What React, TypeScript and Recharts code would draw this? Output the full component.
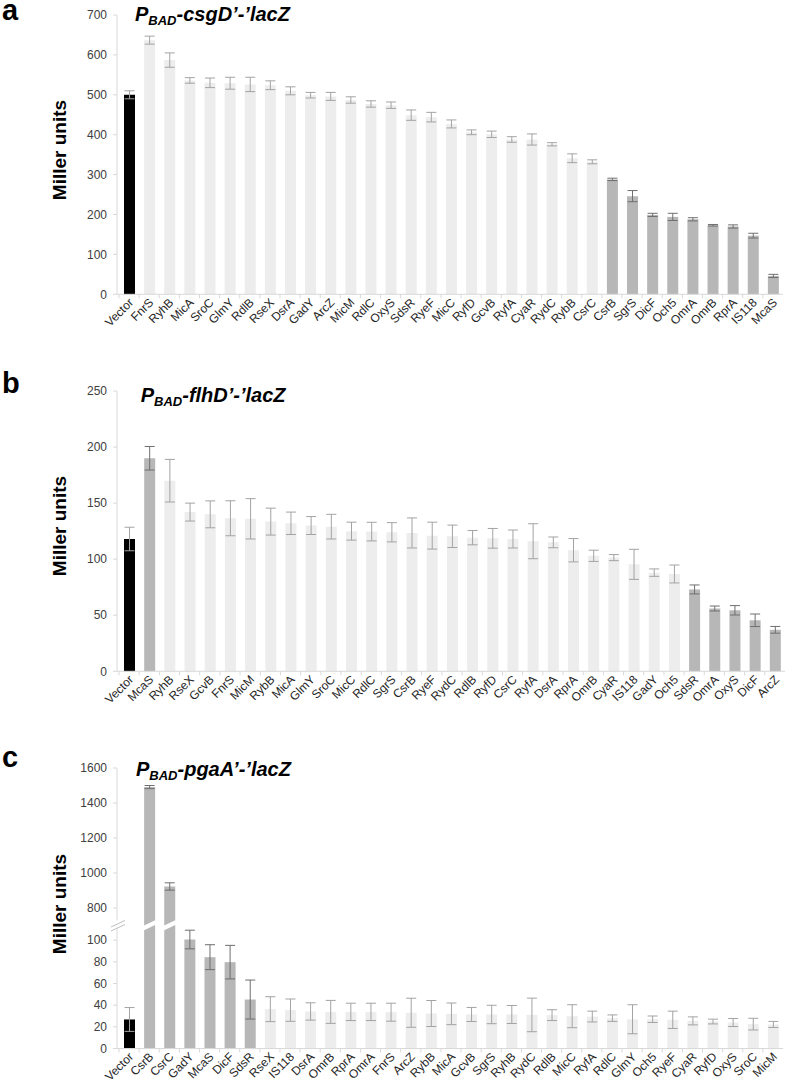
import React from 'react'
import { BarChart, Bar, XAxis, YAxis, ErrorBar, Cell } from 'recharts'

const FONT = '"Liberation Sans", Arial, Helvetica, sans-serif'
const AXIS = '#d9d9d9'
const BLACK = '#000000'
const LIGHT = '#ededed'
const DARK = '#b7b7b7'
const ERR_LIGHT = '#a3a3a3'
const ERR_DARK = '#6e6e6e'

// a: PBAD-csgD'-'lacZ
const csgdNames = ['Vector', 'FnrS', 'RyhB', 'MicA', 'SroC', 'GlmY', 'RdlB', 'RseX', 'DsrA', 'GadY', 'ArcZ', 'MicM', 'RdlC', 'OxyS', 'SdsR', 'RyeF', 'MicC', 'RyfD', 'GcvB', 'RyfA', 'CyaR', 'RydC', 'RybB', 'CsrC', 'CsrB', 'SgrS', 'DicF', 'Och5', 'OmrA', 'OmrB', 'RprA', 'IS118', 'McaS']
const csgdValues = [500, 637, 587, 536, 530, 529, 526, 524, 510, 499, 496, 487, 477, 474, 449, 444, 427, 406, 401, 388, 388, 376, 341, 332, 288, 246, 199, 194, 188, 173, 170, 147, 46]
const csgdErrors = [10, 10, 18, 7, 12, 15, 18, 11, 10, 7, 10, 8, 8, 8, 13, 12, 10, 6, 8, 7, 14, 4, 11, 5, 3, 14, 4, 9, 4, 2, 4, 6, 4]
const csgdDark = ['CsrB', 'SgrS', 'DicF', 'Och5', 'OmrA', 'OmrB', 'RprA', 'IS118', 'McaS']
const csgdTicks = [0, 100, 200, 300, 400, 500, 600, 700]

// b: PBAD-flhD'-'lacZ
const flhdNames = ['Vector', 'McaS', 'RyhB', 'RseX', 'GcvB', 'FnrS', 'MicM', 'RybB', 'MicA', 'GlmY', 'SroC', 'MicC', 'RdlC', 'SgrS', 'CsrB', 'RyeF', 'RydC', 'RdlB', 'RyfD', 'CsrC', 'RyfA', 'DsrA', 'RprA', 'OmrB', 'CyaR', 'IS118', 'GadY', 'Och5', 'SdsR', 'OmrA', 'OxyS', 'DicF', 'ArcZ']
const flhdValues = [118, 190, 170, 142, 140, 136.5, 136, 133.5, 132, 130, 129, 125, 124.6, 124, 123.4, 121, 120.4, 119.2, 118.6, 118, 116, 115, 108, 103, 101.4, 95.4, 88, 86.8, 73, 56, 54.4, 45.5, 37]
const flhdErrors = [10.5, 10.5, 19, 8, 12, 15.6, 18, 12, 10, 8, 11, 8, 8.3, 8.6, 13.4, 12, 10, 6.4, 8.8, 8, 15.6, 4.8, 10.4, 5, 2.7, 13.4, 3.3, 8, 4, 2.2, 4.2, 5.6, 3]
const flhdDark = ['McaS', 'SdsR', 'OmrA', 'OxyS', 'DicF', 'ArcZ']
const flhdTicks = [0, 50, 100, 150, 200, 250]

// c: PBAD-pgaA'-'lacZ (broken axis)
const pgaaNames = ['Vector', 'CsrB', 'CsrC', 'GadY', 'McaS', 'DicF', 'SdsR', 'RseX', 'IS118', 'DsrA', 'OmrB', 'RprA', 'OmrA', 'FnrS', 'ArcZ', 'RybB', 'MicA', 'GcvB', 'SgrS', 'RyhB', 'RydC', 'RdlB', 'MicC', 'RyfA', 'RdlC', 'GlmY', 'Och5', 'RyeF', 'CyaR', 'RyfD', 'OxyS', 'SroC', 'MicM']
const pgaaValues = [26.8, 1491, 923, 100.6, 84.3, 79.7, 45.2, 36.3, 35.4, 34.2, 33.8, 33.8, 33.8, 33.5, 33, 32.3, 32, 31.4, 31.4, 31.4, 31, 30.8, 29.8, 29.5, 28, 27, 27, 26.5, 25.5, 24.9, 24, 22.5, 22.2]
const pgaaErrors = [11, 9, 21, 8.6, 11.5, 15.5, 18, 11.5, 10.3, 8, 10.6, 8, 8, 8.3, 13.4, 12, 10, 6.5, 8.5, 8.3, 15.5, 5, 10.6, 5, 3, 13.4, 3, 8, 3.7, 2.2, 3.7, 5.4, 2.8]
const pgaaDark = ['CsrB', 'CsrC', 'GadY', 'McaS', 'DicF', 'SdsR']
const pgaaUpperTicks = [800, 1000, 1200, 1400, 1600]
const pgaaLowerTicks = [0, 20, 40, 60, 80, 100]
const pgaaUpperDomain = [700, 1600]
const pgaaLowerDomain = [0, 114]

const SLANT = 5.3

type Row = { name: string; value: number | null; errLight: number | null; errDark: number | null; fill: string }

function buildRows(names: string[], values: number[], errors: number[], dark: string[], keep = (v: number) => true): Row[] {
  return names.map((name, i) => {
    const isDark = dark.includes(name)
    const ok = keep(values[i])
    return {
      name,
      value: ok ? values[i] : null,
      errLight: ok && !isDark ? errors[i] : null,
      errDark: ok && isDark ? errors[i] : null,
      fill: name === 'Vector' ? BLACK : isDark ? DARK : LIGHT,
    }
  })
}

const XTick = (props: any) => {
  const { x, y, payload } = props
  const half = payload.offset || 0
  const tx = x + 2
  const ty = y + 6
  return (
    <g>
      <line x1={x - half} x2={x - half} y1={y} y2={y + 4} stroke={AXIS} />
      <text x={tx} y={ty} dy="0.35em" textAnchor="end" transform={`rotate(-45, ${tx}, ${ty})`}
        fontSize={12} fontFamily={FONT} fill="#262626">{payload.value}</text>
    </g>
  )
}

// top part of a broken-axis bar: bottom edge cut on a slant
const UpperBreakBar = (props: any) => {
  const { x, y, width, height, fill } = props
  if (!height || height <= 0) return null
  const b = y + height
  return <polygon points={`${x},${y} ${x + width},${y} ${x + width},${b - SLANT} ${x},${b}`} fill={fill} />
}

const makeLowerBreakBar = (plotH: number, max: number) => (props: any) => {
  const { x, y, width, height, fill, payload, background } = props
  if (!height || height <= 0) return null
  const b = y + height
  if (payload.value > max) {
    const top = background && Number.isFinite(background.y) ? background.y : b - plotH
    return <polygon points={`${x},${top + SLANT} ${x + width},${top} ${x + width},${b} ${x},${b}`} fill={fill} />
  }
  return <rect x={x} y={y} width={width} height={height} fill={fill} />
}

type ChartProps = {
  rows: Row[]
  top: number
  plotH: number
  domain: number[]
  ticks: number[]
  right: number
  showX?: boolean
  overflow?: boolean
  shape?: any
}

function SrnaChart({ rows, top, plotH, domain, ticks, right, showX = true, overflow = false, shape }: ChartProps) {
  const xh = 60
  const height = 10 + plotH + (showX ? xh : 10)
  return (
    <div style={{ position: 'absolute', left: 0, top: top - 10 }}>
      <BarChart width={787} height={height} data={rows}
        margin={{ top: 10, right, left: 0, bottom: showX ? 0 : 10 }}>
        <XAxis dataKey="name" hide={!showX} height={xh} interval={0} tickSize={0} tickMargin={0}
          tickLine={false} axisLine={{ stroke: AXIS }} tick={<XTick />} padding={{ left: 2, right: 0 }} />
        <YAxis type="number" width={117} domain={domain} ticks={ticks} allowDataOverflow={overflow}
          tickSize={4} tickMargin={6} interval={0}
          axisLine={{ stroke: AXIS }} tickLine={{ stroke: AXIS }}
          tick={{ fontSize: 12, fill: '#404040', fontFamily: FONT }} />
        <Bar dataKey="value" barSize={11} isAnimationActive={false} shape={shape}>
          {rows.map((r) => (
            <Cell key={r.name} fill={r.fill} />
          ))}
          <ErrorBar dataKey="errLight" width={5} stroke={ERR_LIGHT} strokeWidth={1} direction="y" isAnimationActive={false} />
          <ErrorBar dataKey="errDark" width={5} stroke={ERR_DARK} strokeWidth={1} direction="y" isAnimationActive={false} />
        </Bar>
      </BarChart>
    </div>
  )
}

function Title({ left, top, gene }: { left: number; top: number; gene: string }) {
  return (
    <div style={{ position: 'absolute', left, top, fontFamily: FONT, fontSize: 20, lineHeight: '20px', fontWeight: 'bold', fontStyle: 'italic', whiteSpace: 'nowrap', color: '#000' }}>
      P<span style={{ fontSize: 13, verticalAlign: '-4px', lineHeight: 0 }}>BAD</span>-{gene}{'\u2019-\u2019'}lacZ
    </div>
  )
}

function Letter({ top, text }: { top: number; text: string }) {
  return (
    <div style={{ position: 'absolute', left: 2, top, fontFamily: FONT, fontSize: 29, lineHeight: '20px', fontWeight: 'bold', color: '#000' }}>{text}</div>
  )
}

function YLabel({ cy }: { cy: number }) {
  return (
    <div style={{ position: 'absolute', left: 60, top: cy, transform: 'translate(-50%, -50%) rotate(-90deg)', fontFamily: FONT, fontSize: 19, lineHeight: '20px', fontWeight: 'bold', whiteSpace: 'nowrap', color: '#000' }}>
      Miller units
    </div>
  )
}

export default function App() {
  const aRows = buildRows(csgdNames, csgdValues, csgdErrors, csgdDark)
  const bRows = buildRows(flhdNames, flhdValues, flhdErrors, flhdDark)
  const cUpper = buildRows(pgaaNames, pgaaValues, pgaaErrors, pgaaDark, (v) => v >= pgaaUpperDomain[0])
  const cLower = buildRows(pgaaNames, pgaaValues, pgaaErrors, pgaaDark).map((r, i) =>
    pgaaValues[i] > pgaaLowerDomain[1] ? { ...r, errLight: null, errDark: null } : r)
  const lowerH = 123.5

  return (
    <div style={{ position: 'absolute', left: 0, top: 0, width: 787, height: 1084, background: '#fff', overflow: 'hidden' }}>
      <SrnaChart rows={aRows} top={15} plotH={279.3} domain={[0, 700]} ticks={csgdTicks} right={4} />
      <SrnaChart rows={bRows} top={390.7} plotH={280.3} domain={[0, 250]} ticks={flhdTicks} right={2} />
      <SrnaChart rows={cUpper} top={768.3} plotH={157.5} domain={pgaaUpperDomain} ticks={pgaaUpperTicks} right={4}
        showX={false} shape={UpperBreakBar} />
      <SrnaChart rows={cLower} top={924.8} plotH={lowerH} domain={pgaaLowerDomain} ticks={pgaaLowerTicks} right={4}
        overflow shape={makeLowerBreakBar(lowerH, pgaaLowerDomain[1])} />

      <svg style={{ position: 'absolute', left: 105, top: 912 }} width={30} height={26}>
        <rect x={10} y={8.5} width={4} height={8} fill="#fff" />
        <line x1={6} y1={15} x2={20} y2={8.5} stroke="#bfbfbf" strokeWidth={1} />
        <line x1={6} y1={19} x2={20} y2={12.5} stroke="#bfbfbf" strokeWidth={1} />
      </svg>

      <Letter top={0} text="a" />
      <Letter top={373} text="b" />
      <Letter top={747} text="c" />

      <Title left={135} top={3.7} gene="csgD" />
      <Title left={140.7} top={384.7} gene="flhD" />
      <Title left={136} top={759} gene="pgaA" />

      <YLabel cy={150} />
      <YLabel cy={526} />
      <YLabel cy={904} />
    </div>
  )
}
